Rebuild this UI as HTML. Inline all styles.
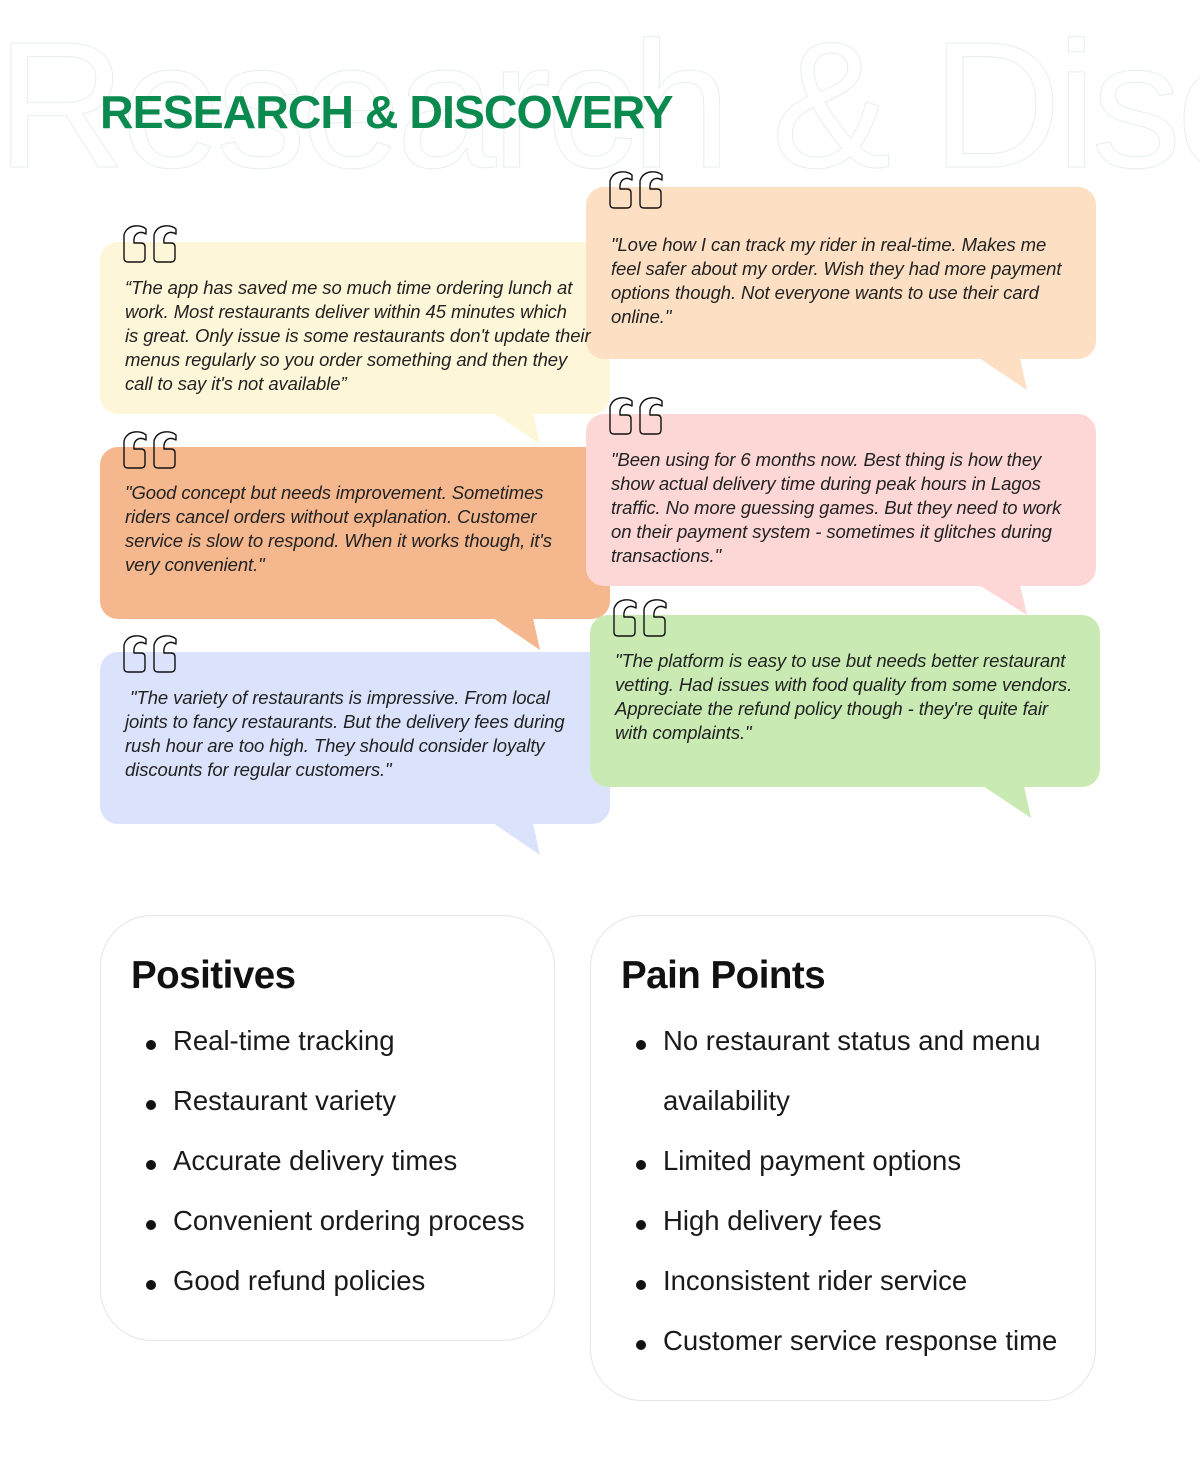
<!DOCTYPE html>
<html><head><meta charset="utf-8"><style>
*{margin:0;padding:0;box-sizing:border-box}
body{width:1200px;height:1481px;background:#fff;position:relative;overflow:hidden;font-family:"Liberation Sans",sans-serif;color:#1a1a1a}
.bg{position:absolute;left:-4px;top:2px;font-size:180px;font-weight:400;color:transparent;-webkit-text-stroke:1px #e6efea;white-space:nowrap;letter-spacing:-5px}
h1{position:absolute;left:100px;top:85px;font-size:46.5px;font-weight:700;color:#0b8a4f;letter-spacing:-1px;white-space:nowrap}
.b{position:absolute;border-radius:18px}
.t{position:absolute;font-style:italic;font-size:18.5px;line-height:24px;letter-spacing:-0.1px;white-space:nowrap;color:#222}
.q{position:absolute;width:60px;height:42px}
.card{position:absolute;border:1.5px solid #e6e6e6;border-radius:52px;background:#fff}
.card h2{position:absolute;font-size:38.5px;font-weight:700;color:#111;letter-spacing:-0.5px}
.li{position:absolute;font-size:27.5px;color:#1a1a1a;white-space:nowrap}
.li:before{content:"";position:absolute;left:-27px;top:15px;width:10px;height:10px;border-radius:50%;background:#111}
</style></head><body>
<div class="bg">Research &amp; Discovery</div>
<h1>RESEARCH &amp; DISCOVERY</h1>

<svg width="1200" height="900" style="position:absolute;left:0;top:0">
<polygon points="493,413 540,444 533,413" fill="#fef6d8"/>
<polygon points="493,618 540,650 533,618" fill="#f4b78e"/>
<polygon points="493,823 540,855 533,823" fill="#dbe3fc"/>
<polygon points="979,358 1027,390 1020,358" fill="#fde0c4"/>
<polygon points="979,585 1027,615 1020,585" fill="#fdd6d6"/>
<polygon points="983,786 1031,818 1024,786" fill="#c9ebb3"/>
</svg>
<div class="b" style="left:100px;top:242px;width:510px;height:172px;background:#fef6d8"></div>
<div class="b" style="left:100px;top:447px;width:510px;height:172px;background:#f4b78e"></div>
<div class="b" style="left:100px;top:652px;width:510px;height:172px;background:#dbe3fc"></div>
<div class="b" style="left:586px;top:187px;width:510px;height:172px;background:#fde0c4"></div>
<div class="b" style="left:586px;top:414px;width:510px;height:172px;background:#fdd6d6"></div>
<div class="b" style="left:590px;top:615px;width:510px;height:172px;background:#c9ebb3"></div>

<svg width="0" height="0" style="position:absolute"><defs><g id="qq" fill="none" stroke="#111" stroke-width="1.4" stroke-linejoin="round"><path d="M25,6 C20,1 6,1 3,12 L3,35 Q3,39 7,39 L20,39 Q24,39 24,35 L24,24 Q24,20 20,20 L13,20 C12,11 18,7 25,11 Z"/><path d="M55,6 C50,1 36,1 33,12 L33,35 Q33,39 37,39 L50,39 Q54,39 54,35 L54,24 Q54,20 50,20 L43,20 C42,11 48,7 55,11 Z"/></g></defs></svg>
<svg class="q" style="left:121px;top:223px"><use href="#qq"/></svg>
<svg class="q" style="left:121px;top:429px"><use href="#qq"/></svg>
<svg class="q" style="left:121px;top:633px"><use href="#qq"/></svg>
<svg class="q" style="left:607px;top:169px"><use href="#qq"/></svg>
<svg class="q" style="left:607px;top:395px"><use href="#qq"/></svg>
<svg class="q" style="left:611px;top:597px"><use href="#qq"/></svg>

<div class="t" style="left:125px;top:276px">“The app has saved me so much time ordering lunch at<br>work. Most restaurants deliver within 45 minutes which<br>is great. Only issue is some restaurants don't update their<br>menus regularly so you order something and then they<br>call to say it's not available”</div>
<div class="t" style="left:125px;top:481px">"Good concept but needs improvement. Sometimes<br>riders cancel orders without explanation. Customer<br>service is slow to respond. When it works though, it's<br>very convenient."</div>
<div class="t" style="left:125px;top:686px">&nbsp;"The variety of restaurants is impressive. From local<br>joints to fancy restaurants. But the delivery fees during<br>rush hour are too high. They should consider loyalty<br>discounts for regular customers."</div>
<div class="t" style="left:611px;top:233px">"Love how I can track my rider in real-time. Makes me<br>feel safer about my order. Wish they had more payment<br>options though. Not everyone wants to use their card<br>online."</div>
<div class="t" style="left:611px;top:448px">"Been using for 6 months now. Best thing is how they<br>show actual delivery time during peak hours in Lagos<br>traffic. No more guessing games. But they need to work<br>on their payment system - sometimes it glitches during<br>transactions."</div>
<div class="t" style="left:615px;top:649px">"The platform is easy to use but needs better restaurant<br>vetting. Had issues with food quality from some vendors.<br>Appreciate the refund policy though - they're quite fair<br>with complaints."</div>

<div class="card" style="left:100px;top:915px;width:455px;height:426px">
<h2 style="left:30px;top:38px">Positives</h2></div>
<div class="li" style="left:173px;top:1025px">Real-time tracking</div>
<div class="li" style="left:173px;top:1085px">Restaurant variety</div>
<div class="li" style="left:173px;top:1145px">Accurate delivery times</div>
<div class="li" style="left:173px;top:1205px">Convenient ordering process</div>
<div class="li" style="left:173px;top:1265px">Good refund policies</div>

<div class="card" style="left:590px;top:915px;width:506px;height:486px">
<h2 style="left:30px;top:38px">Pain Points</h2></div>
<div class="li" style="left:663px;top:1025px">No restaurant status and menu</div>
<div style="position:absolute;left:663px;top:1085px;font-size:27.5px;color:#1a1a1a">availability</div>
<div class="li" style="left:663px;top:1145px">Limited payment options</div>
<div class="li" style="left:663px;top:1205px">High delivery fees</div>
<div class="li" style="left:663px;top:1265px">Inconsistent rider service</div>
<div class="li" style="left:663px;top:1325px">Customer service response time</div>
</body></html>
